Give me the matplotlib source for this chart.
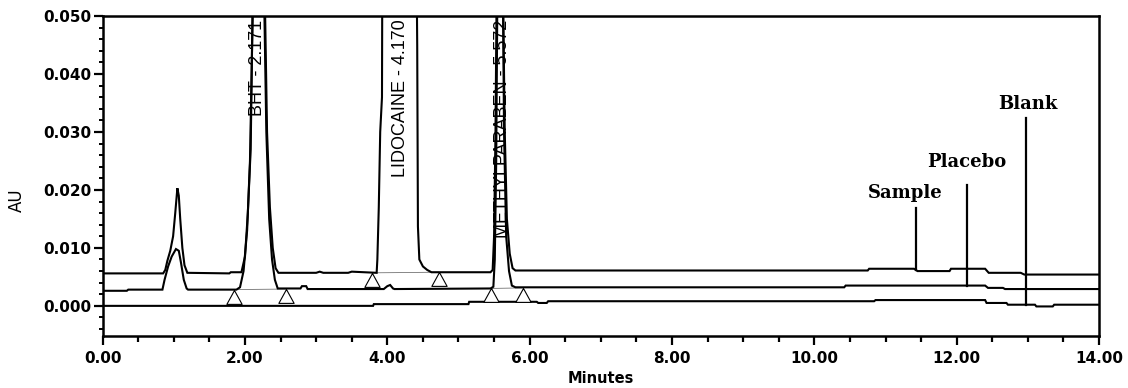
import matplotlib
matplotlib.use("Agg")
import matplotlib.pyplot as plt
from matplotlib.ticker import MultipleLocator, FormatStrFormatter

# ---------------- data ----------------
# Sample trace (top)
sample_t = [0.00, 0.85, 0.88, 0.91, 0.95, 0.99, 1.02, 1.05, 1.07, 1.09, 1.12, 1.15, 1.19,
            1.78, 1.80, 1.95, 2.00, 2.04, 2.08, 2.10, 2.12, 2.20, 2.27, 2.29, 2.31, 2.35,
            2.39, 2.43, 2.47, 3.00, 3.05, 3.10, 3.45, 3.50, 3.85, 3.86, 3.88, 3.90, 3.925,
            3.93, 4.41, 4.42, 4.43, 4.45, 4.50, 4.56, 4.62, 5.45, 5.48, 5.50, 5.52, 5.54,
            5.62, 5.65, 5.68, 5.72, 5.76, 5.80, 10.75, 10.77, 11.40, 11.45, 11.90, 11.92,
            12.40, 12.45, 12.90, 12.95, 14.00]
sample_v = [0.0056, 0.0056, 0.0062, 0.0078, 0.0095, 0.0120, 0.0160, 0.0203, 0.0190, 0.0150,
            0.0100, 0.0070, 0.0057, 0.0056, 0.0058, 0.0058, 0.0085, 0.0160, 0.0270, 0.0450,
            0.0600, 0.0700, 0.0600, 0.0450, 0.0300, 0.0170, 0.0100, 0.0065, 0.0057, 0.0057,
            0.0059, 0.0057, 0.0057, 0.0059, 0.0057, 0.0080, 0.0170, 0.0300, 0.0360, 0.0600,
            0.0600, 0.0450, 0.0137, 0.0080, 0.0068, 0.0062, 0.0058, 0.0058, 0.0062, 0.0120,
            0.0300, 0.0600, 0.0600, 0.0300, 0.0150, 0.0090, 0.0065, 0.0061, 0.0061, 0.0064,
            0.0064, 0.0060, 0.0060, 0.0064, 0.0064, 0.0057, 0.0057, 0.0054, 0.0054]

# Placebo trace (middle)
placebo_t = [0.00, 0.34, 0.36, 0.84, 0.87, 0.92, 0.97, 1.03, 1.07, 1.10, 1.14, 1.18, 1.20,
             1.88, 1.93, 1.98, 2.03, 2.07, 2.10, 2.12, 2.20, 2.26, 2.28, 2.30, 2.34, 2.38,
             2.42, 2.46, 2.78, 2.80, 2.86, 2.88, 3.95, 4.00, 4.04, 4.08, 4.10, 5.45, 5.49,
             5.51, 5.53, 5.55, 5.62, 5.64, 5.67, 5.71, 5.75, 5.80, 10.42, 10.44, 12.40,
             12.44, 12.65, 12.68, 14.00]
placebo_v = [0.0026, 0.0026, 0.0028, 0.0028, 0.0045, 0.0068, 0.0085, 0.0098, 0.0095, 0.0075,
             0.0045, 0.0030, 0.0028, 0.0028, 0.0032, 0.0060, 0.0130, 0.0250, 0.0450, 0.0600,
             0.0700, 0.0600, 0.0450, 0.0300, 0.0150, 0.0080, 0.0045, 0.0030, 0.0030, 0.0034,
             0.0034, 0.0029, 0.0029, 0.0034, 0.0036, 0.0030, 0.0029, 0.0030, 0.0033, 0.0080,
             0.0250, 0.0600, 0.0600, 0.0300, 0.0120, 0.0060, 0.0035, 0.0032, 0.0032, 0.0035,
             0.0035, 0.0031, 0.0031, 0.0029, 0.0029]

# Blank trace (bottom)
blank_t = [0.00, 3.80, 3.81, 5.14, 5.15, 6.10, 6.12, 6.24, 6.26, 10.84, 10.86, 12.40, 12.42,
           12.70, 12.72, 13.10, 13.12, 13.35, 13.37, 14.00]
blank_v = [0.0000, 0.0000, 0.0003, 0.0003, 0.0007, 0.0007, 0.0005, 0.0005, 0.0008, 0.0008,
           0.0010, 0.0010, 0.0005, 0.0005, 0.0002, 0.0002, -0.0001, -0.0001, 0.0002, 0.0002]

# integration markers (peak start / end)
tri_t = [1.85, 2.58, 3.79, 4.72, 5.45, 5.90]
tri_v = [0.0028, 0.0029, 0.0057, 0.0058, 0.0030, 0.0031]

# peak labels
peak_names = ["BHT - 2.171", "LIDOCAINE - 4.170", "METHYLPARABEN - 5.572"]
peak_label_t = [2.18, 4.18, 5.62]

# trace labels
trace_names = ["Sample", "Placebo", "Blank"]
trace_mark_t = [11.43, 12.14, 12.97]
trace_mark_lo = [0.0061, 0.0035, 0.0002]
trace_mark_hi = [0.0168, 0.0209, 0.0324]
trace_text_t = [11.28, 12.14, 13.00]
trace_text_v = [0.0194, 0.0249, 0.0348]

x_ticks = [0, 2, 4, 6, 8, 10, 12, 14]
y_ticks = [0.000, 0.010, 0.020, 0.030, 0.040, 0.050]

# ---------------- figure ----------------
fig = plt.figure(figsize=(11.28, 3.88), dpi=100)
ax = fig.add_axes([0.0910, 0.1340, 0.8833, 0.8248])

lw = 1.5
for t, v in [(sample_t, sample_v), (placebo_t, placebo_v), (blank_t, blank_v)]:
    ax.plot(t, v, color="black", lw=lw, solid_joinstyle="miter", zorder=3)

# thin integration baselines between markers
for i in range(0, len(tri_t), 2):
    ax.plot(tri_t[i:i + 2], tri_v[i:i + 2], color="0.45", lw=0.6, zorder=2)

tri_marker = [(0, 0), (-0.55, -1), (0.55, -1), (0, 0)]
ax.plot(tri_t, tri_v, ls="none", marker=tri_marker, ms=20, mfc="white",
        mec="black", mew=0.8, zorder=4)

for name, t in zip(peak_names, peak_label_t):
    ax.text(t, 0.0494, name, rotation=90, ha="center", va="top",
            fontsize=13, family="Liberation Sans", zorder=5)

for t, lo, hi in zip(trace_mark_t, trace_mark_lo, trace_mark_hi):
    ax.plot([t, t], [lo, hi], color="black", lw=1.6, zorder=3)
for name, t, v in zip(trace_names, trace_text_t, trace_text_v):
    ax.text(t, v, name, ha="center", va="center",
            fontsize=13, family="DejaVu Serif", fontweight="bold")

ax.set_xlim(0, 14)
ax.set_ylim(-0.0052, 0.050)
ax.set_xticks(x_ticks)
ax.set_yticks(y_ticks)
ax.xaxis.set_major_formatter(FormatStrFormatter("%.2f"))
ax.yaxis.set_major_formatter(FormatStrFormatter("%.3f"))
ax.xaxis.set_minor_locator(MultipleLocator(0.5))
ax.yaxis.set_minor_locator(MultipleLocator(0.002))

for lab in ax.get_xticklabels() + ax.get_yticklabels():
    lab.set_fontweight("bold")
    lab.set_fontsize(11)
    lab.set_family("DejaVu Sans")

ax.tick_params(axis="both", which="major", direction="out", length=6.5, width=1.6,
               color="black")
ax.tick_params(axis="x", which="major", pad=4)
ax.tick_params(axis="y", which="major", pad=1.5)
ax.tick_params(axis="x", which="minor", direction="out", length=4.3, width=1.6)
ax.tick_params(axis="y", which="minor", direction="out", length=3.0, width=1.4)

for sp in ax.spines.values():
    sp.set_linewidth(1.8)

ax.set_xlabel("Minutes", fontsize=10.5, fontweight="bold", family="DejaVu Sans")
ax.xaxis.set_label_coords(0.5, -0.11)
ax.xaxis.label.set_va("top")
ax.set_ylabel("AU", fontsize=12, family="DejaVu Sans")
ax.yaxis.set_label_coords(-0.077, 0.425)

fig.savefig("out.png", dpi=100)
